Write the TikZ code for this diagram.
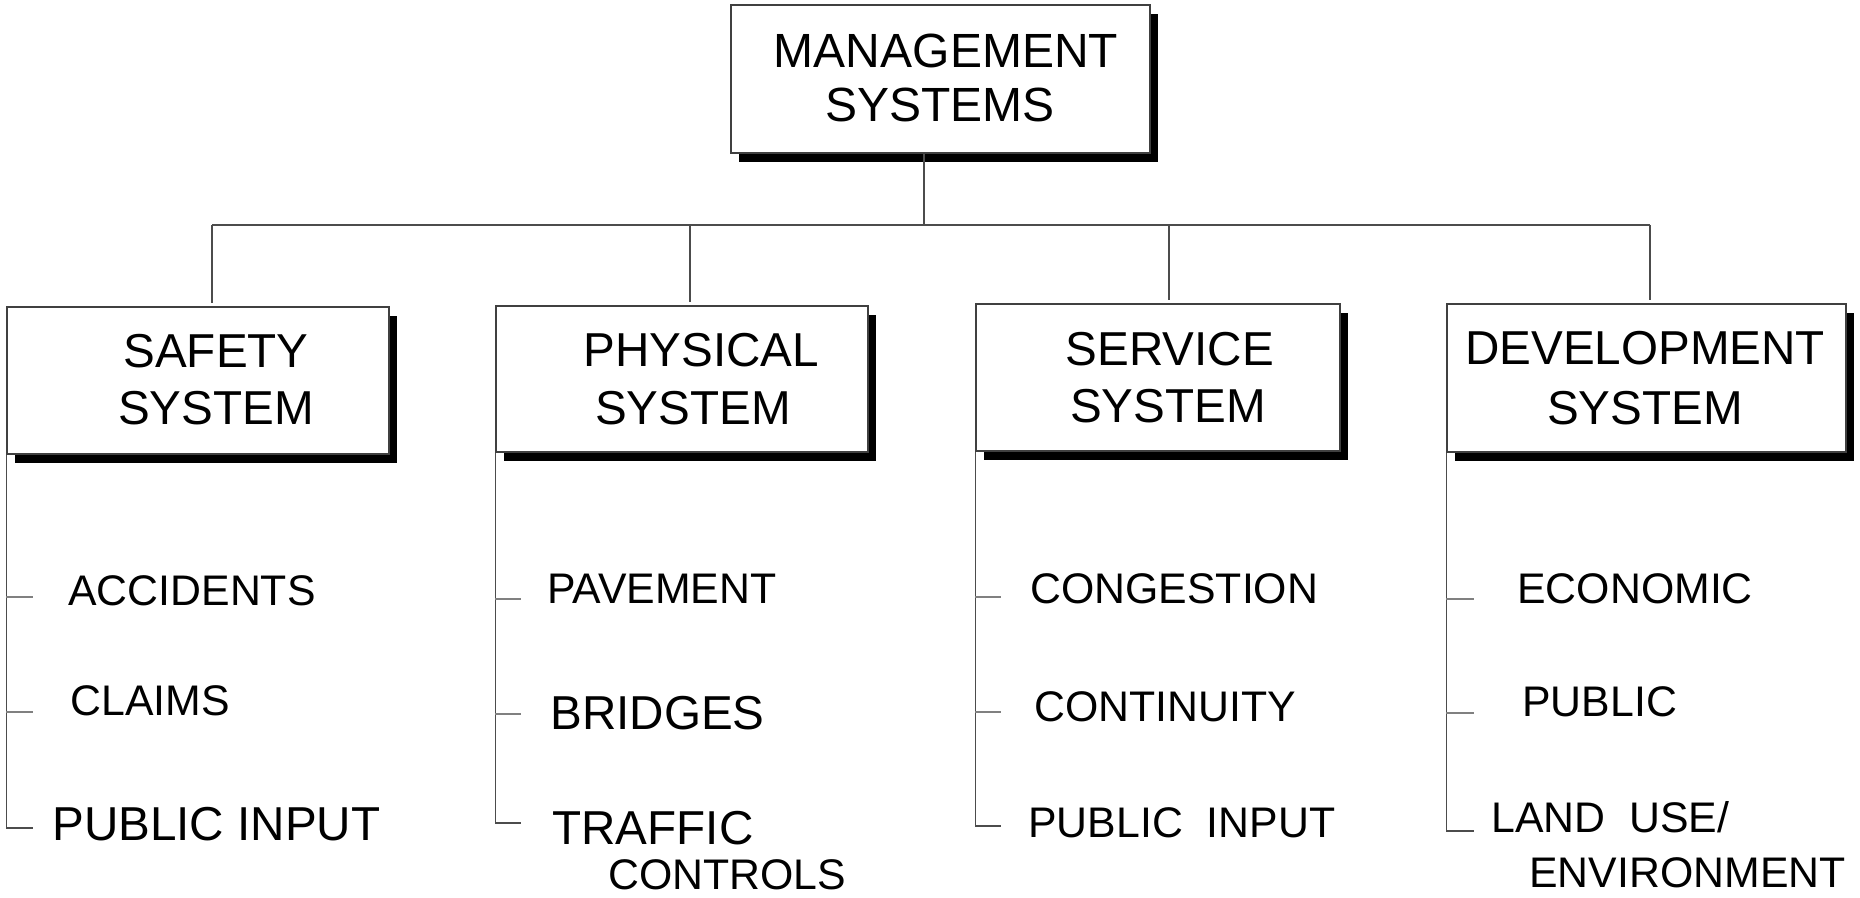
\documentclass[tikz,border=0pt]{standalone}
\usepackage{fontspec}
\setmainfont{Liberation Sans}
\usetikzlibrary{shadows}

\tikzset{
  sysbox/.style={draw=black!75, line width=0.6pt, fill=white, inner sep=0pt,
    drop shadow={shadow xshift=4pt, shadow yshift=-4.5pt, fill=black, opacity=1}},
  boxtext/.style={inner sep=0pt, anchor=base, font=\fontsize{23.8}{28}\selectfont},
  toptext/.style={boxtext, font=\fontsize{24}{28}\selectfont},
  itemtext/.style={inner sep=0pt, anchor=base west, font=\fontsize{21.4}{25}\selectfont},
  bigitem/.style={itemtext, font=\fontsize{23.8}{28}\selectfont},
  link/.style={draw=black!70, line width=0.6pt},
  tick/.style={draw=black!50, line width=0.6pt}
}

\begin{document}
\begin{tikzpicture}[x=0.5pt, y=-0.5pt]
    \useasboundingbox (0,0) rectangle (1860,898);

    % Top box
    \node[sysbox, minimum width=209.5pt, minimum height=74pt] (mgmt) at (940.5,79) {};
    \node[toptext] (mgmtA) at (946,68) {MANAGEMENT};
    \node[toptext] (mgmtB) at (940,122) {SYSTEMS};

    % System boxes
    \node[sysbox, minimum width=191pt, minimum height=73.5pt] (safety) at (198,380.5) {};
    \node[boxtext] (safetyA) at (216,368) {SAFETY};
    \node[boxtext] (safetyB) at (216,425) {SYSTEM};

    \node[sysbox, minimum width=186pt, minimum height=73pt] (physical) at (682,379) {};
    \node[boxtext] (physicalA) at (701.5,367) {PHYSICAL};
    \node[boxtext] (physicalB) at (693,425) {SYSTEM};

    \node[sysbox, minimum width=182pt, minimum height=73.5pt] (service) at (1158,377.5) {};
    \node[boxtext] (serviceA) at (1170,366) {SERVICE};
    \node[boxtext] (serviceB) at (1168,423) {SYSTEM};

    \node[sysbox, minimum width=199.5pt, minimum height=74pt] (devel) at (1646.5,378) {};
    \node[boxtext] (develA) at (1645,365) {DEVELOPMENT};
    \node[boxtext] (develB) at (1645,425) {SYSTEM};

    % Bus lines
    \coordinate (busL) at (212,225);
    \coordinate (busR) at (1650,225);
    \draw[link] (busL) -- (busR);
    \draw[link] ([xshift=-8.25pt]mgmt.south) -- ([xshift=-8.25pt]mgmt.south |- busL);
    \foreach \b/\x in {safety/212, physical/690, service/1169, devel/1650} {
        \coordinate (\b-top) at (\x,225);
        \draw[link] (\b-top) -- ([yshift=1.5pt]\b-top |- \b.north);
    }

    % Item trees
    \foreach \b/\x/\ya/\yb/\yc in {safety/33/597/712/828, physical/521/599/714/823,
                                   service/1001/597/712/826, devel/1474/599/713/831} {
        \coordinate (\b-t1) at (\x,\ya);
        \coordinate (\b-t2) at (\x,\yb);
        \coordinate (\b-t3) at (\x,\yc);
        \draw[link] (\b.south west) |- (\b-t3);
        \draw[tick] (\b-t1 -| \b.west) -- (\b-t1);
        \draw[tick] (\b-t2 -| \b.west) -- (\b-t2);
    }

    % Safety items
    \node[itemtext] (accidents) at (68,606) {ACCIDENTS};
    \node[itemtext] (claims) at (70,716) {CLAIMS};
    \node[bigitem] (safetyinput) at (52,841) {PUBLIC INPUT};

    % Physical items
    \node[itemtext] (pavement) at (547,604) {PAVEMENT};
    \node[bigitem] (bridges) at (550,729) {BRIDGES};
    \node[bigitem] (trafficA) at (552,844) {TRAFFIC};
    \node[itemtext] (trafficB) at (608,889) {CONTROLS};

    % Service items
    \node[itemtext] (congestion) at (1030,604) {CONGESTION};
    \node[itemtext] (continuity) at (1034,721) {CONTINUITY};
    \node[itemtext] (serviceinput) at (1028,837) {PUBLIC~~INPUT};

    % Development items
    \node[itemtext] (economic) at (1517,604) {ECONOMIC};
    \node[itemtext] (public) at (1522,717) {PUBLIC};
    \node[itemtext] (landuseA) at (1491,832) {LAND~~USE/};
    \node[itemtext] (landuseB) at (1529,887) {ENVIRONMENT};
\end{tikzpicture}
\end{document}
